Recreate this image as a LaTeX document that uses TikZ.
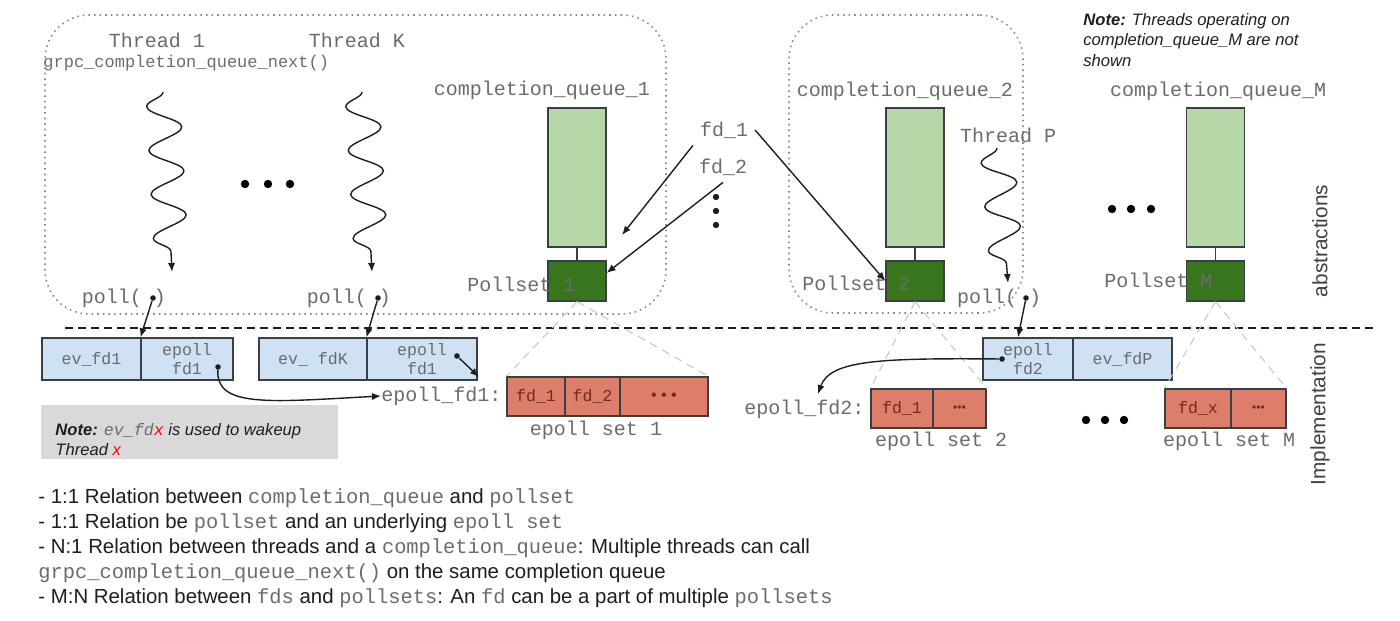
\documentclass[tikz,border=0pt]{standalone}
\usepackage{fontspec}
\setmainfont{Liberation Sans}
\setmonofont{Liberation Mono}
\usetikzlibrary{arrows.meta, calc, decorations.pathmorphing}
\definecolor{CqGreen}  {HTML}{B6D7A8}
\definecolor{PsGreen}  {HTML}{38761D}
\definecolor{EvBlue}   {HTML}{CFE2F3}
\definecolor{EpRed}    {HTML}{DD7E6B}
\definecolor{EpText}   {HTML}{6E2D22}
\definecolor{BoxLine}  {HTML}{3A3F44}
\definecolor{MonoGrey} {HTML}{6B6B6B}
\definecolor{GroupGrey}{HTML}{8C8C8C}
\definecolor{GuideGrey}{HTML}{C4C4C4}
\definecolor{NoteFill} {HTML}{D9D9D9}
\definecolor{Ink}      {HTML}{1E1E1E}
\newcommand{\mtt}[1]{{\ttfamily\color{MonoGrey}#1}}

\tikzset{
  mono/.style={font=\ttfamily\fontsize{10}{12}\selectfont, text=MonoGrey},
  group/.style={draw=GroupGrey, dotted, line width=0.8pt, rounded corners=22pt},
  cqbox/.style={draw=BoxLine, fill=CqGreen, line width=0.6pt,
                minimum width=29pt, minimum height=69.5pt, inner sep=0pt},
  psbox/.style={draw=BoxLine, fill=PsGreen, line width=0.6pt,
                minimum width=29pt, minimum height=20pt, inner sep=0pt},
  evcell/.style={draw=BoxLine, fill=EvBlue, line width=0.6pt, minimum height=21pt,
                 inner sep=1pt, align=center, text=MonoGrey,
                 font=\ttfamily\fontsize{8.3}{9.5}\selectfont},
  epcell/.style={draw=BoxLine, fill=EpRed, line width=0.6pt, minimum height=19.5pt,
                 inner sep=1pt, text=EpText,
                 font=\ttfamily\fontsize{8.3}{9.5}\selectfont},
  arr/.style={-{Latex[length=4.5pt, width=3.6pt]}, line width=0.7pt, draw=Ink},
  wave/.style={arr, decorate, decoration={snake, mirror, segment length=22pt,
               amplitude=8.5pt, post length=7pt}},
  guide/.style={draw=GuideGrey, dashed, dash pattern=on 4pt off 3pt, line width=0.5pt},
  sep/.style={draw=Ink, dash pattern=on 4pt off 2.5pt, line width=0.6pt},
  dotmark/.style={circle, fill=Ink, inner sep=0pt, minimum size=2.8pt},
  bigdot/.style={circle, fill=black, inner sep=0pt, minimum size=4.2pt},
  note/.style={font=\itshape\fontsize{8.3}{10.2}\selectfont, text=Ink, align=left,
               inner sep=0pt},
  side/.style={font=\fontsize{10.4}{12}\selectfont, text=Ink!85, rotate=90}
}

\begin{document}
\begin{tikzpicture}[x=0.5pt, y=-0.5pt]
  \useasboundingbox (0,0) rectangle (1400,620);
  % Dotted groups of threads and queues
  \node[group, minimum width=310.5pt, minimum height=149.5pt] (grp1) at (355.5,164.5) {};
  \node[group, minimum width=117pt, minimum height=149pt] (grp2) at (906,164) {};

  % Threads
  \node[mono] (th1) at (157,40) {Thread 1};
  \node[mono] (thK) at (357,40) {Thread K};
  \node[mono, anchor=west, inner sep=0pt, font=\ttfamily\fontsize{8.5}{10}\selectfont]
        (next) at (43,63) {grpc\_completion\_queue\_next()};
  \node[mono] (thP) at (1008,135) {Thread P};
  \coordinate (w1s) at (163,92);   \coordinate (w1e) at (172,272);
  \coordinate (wKs) at (362,92);   \coordinate (wKe) at (372,272);
  \coordinate (wPs) at (997,148);  \coordinate (wPe) at (1008,283);
  \draw[wave] (w1s) -- (w1e);
  \draw[wave] (wKs) -- (wKe);
  \draw[wave] (wPs) -- (wPe);
  \node[mono] (poll1) at (124,298) {poll( )};
  \node[mono] (pollK) at (349,298) {poll( )};
  \node[mono] (pollP) at (999,298) {poll( )};
  \node[dotmark] (d1) at (153,298) {};
  \node[dotmark] (dK) at (378,298) {};
  \node[dotmark] (dP) at (1026,298) {};
  \foreach \x in {245,268,290} \node[bigdot] at (\x,184) {};

  % Completion queues and pollsets
  \node[mono] (cq1lbl) at (542,90) {completion\_queue\_1};
  \node[mono] (cq2lbl) at (905,91) {completion\_queue\_2};
  \node[mono] (cqMlbl) at (1218,91) {completion\_queue\_M};
  \node[cqbox] (cq1) at (577,177.5) {};
  \node[cqbox] (cq2) at (915,177.5) {};
  \node[cqbox] (cqM) at (1215.5,177.5) {};
  \node[psbox] (ps1) at (577,281) {};
  \node[psbox] (ps2) at (915,281) {};
  \node[psbox] (psM) at (1215.5,281) {};
  \draw[draw=BoxLine, line width=0.6pt] (cq1) -- (ps1);
  \draw[draw=BoxLine, line width=0.6pt] (cq2) -- (ps2);
  \draw[draw=BoxLine, line width=0.6pt] (cqM) -- (psM);
  \node[mono, anchor=west, inner sep=0pt] (ps1lbl) at (467,284) {Pollset 1};
  \node[mono, anchor=west, inner sep=0pt] (ps2lbl) at (802,283) {Pollset 2};
  \node[mono, anchor=west, inner sep=0pt] (psMlbl) at (1104,280) {Pollset M};
  \foreach \x in {1112,1131,1151} \node[bigdot] at (\x,209) {};

  % File descriptors
  \node[mono] (fd1) at (724,130) {fd\_1};
  \node[mono] (fd2) at (723,167) {fd\_2};
  \foreach \y in {197,211,225} \node[dotmark, minimum size=3.2pt] at (716,\y) {};
  \coordinate (hit1) at (622,235);
  \draw[arr] (fd1.south west) -- (hit1);
  \draw[arr] (fd2.south) -- ([yshift=4pt]ps1.east);
  \draw[arr] (fd1.east) -- (ps2.west);

  % Note on threads of the last queue
  \node[note, anchor=north west] (noteM) at (1083,13)
        {\textbf{Note:} Threads operating on\\completion\_queue\_M are not\\shown};

  % Separator between layers
  \coordinate (sepL) at (65,328);
  \coordinate (sepR) at (1375,328);
  \draw[sep] (sepL) -- (sepR);
  \node[side] (abs) at (1320,241) {abstractions};
  \node[side] (impl) at (1320,414) {Implementation};

  % Wakeup fd pairs
  \node[evcell, minimum width=49.5pt] (ev1) at (91.5,359) {ev\_fd1};
  \node[evcell, minimum width=46pt] (ep1) at (187,359) {epoll\\fd1};
  \node[evcell, minimum width=54pt] (evK) at (313,359) {ev\_ fdK};
  \node[evcell, minimum width=55pt] (epK) at (422,359) {epoll\\fd1};
  \node[evcell, minimum width=45pt] (epP) at (1028,359) {epoll\\fd2};
  \node[evcell, minimum width=49.5pt] (evP) at (1122.5,359) {ev\_fdP};
  \draw[arr] (d1) -- (ep1.north west);
  \draw[arr] (dK) -- (epK.north west);
  \draw[arr] (dP) -- ([xshift=-5pt]epP.north);
  \node[dotmark] (e1dot) at (218,367) {};
  \node[dotmark] (eKdot) at (457,356) {};
  \node[dotmark] (ePdot) at (1002,359) {};

  % Epoll sets
  \node[mono, anchor=west, inner sep=0pt] (efd1) at (381,396) {epoll\_fd1:};
  \node[epcell, minimum width=29pt] (s1a) at (536,396.5) {fd\_1};
  \node[epcell, minimum width=27.5pt] (s1b) at (592.5,396.5) {fd\_2};
  \node[epcell, minimum width=44pt, font=\fontsize{8}{9}\selectfont] (s1c) at (664,396.5) {• • •};
  \node[mono] (set1) at (596,430) {epoll set 1};
  \node[mono, anchor=west, inner sep=0pt] (efd2) at (744,409) {epoll\_fd2:};
  \node[epcell, minimum width=31pt] (s2a) at (902,408.5) {fd\_1};
  \node[epcell, minimum width=26.5pt, font=\fontsize{6}{7}\selectfont] (s2b) at (959.5,408.5) {•••};
  \node[mono] (set2) at (941,441) {epoll set 2};
  \node[epcell, minimum width=33pt] (sMa) at (1198,408.5) {fd\_x};
  \node[epcell, minimum width=27.5pt, font=\fontsize{6}{7}\selectfont] (sMb) at (1258.5,408.5) {•••};
  \node[mono] (setM) at (1229,441) {epoll set M};
  \foreach \x in {1086,1105,1124} \node[bigdot] at (\x,420) {};
  \draw[guide] (ps1.south) -- (s1a.north west);
  \draw[guide] (ps1.south) -- (s1c.north east);
  \draw[guide] (ps2.south) -- (s2a.north west);
  \draw[guide] (ps2.south) -- (s2b.north east);
  \draw[guide] (psM.south) -- (sMa.north west);
  \draw[guide] (psM.south) -- (sMb.north east);

  % Links from epoll fds to their sets
  \coordinate (eKhit) at (479,377);
  \coordinate (efd2hit) at (818,394);
  \draw[arr] (e1dot) .. controls (216,408) and (270,402) .. (efd1.west);
  \draw[arr] (eKdot) -- (eKhit);
  \draw[arr] (ePdot) .. controls (880,358) and (830,360) .. (efd2hit);

  % Note on wakeup fds
  \node[fill=NoteFill, minimum width=148.5pt, minimum height=27pt, inner sep=0pt]
        (notebg) at (189.5,432) {};
  \node[note, anchor=north west] (notefd) at (55,423)
        {\textbf{Note:} {\ttfamily\color{MonoGrey}ev\_fd}{\ttfamily\color{red}x} is used to wakeup\\
         Thread {\color{red}x}};

  % Relations
  \node[anchor=north west, inner sep=0pt, align=left, text=Ink,
        font=\fontsize{10.2}{12.6}\selectfont] (rels) at (38,488)
        {- 1:1 Relation between \mtt{completion\_queue} and \mtt{pollset}\\
         - 1:1 Relation be \mtt{pollset} and an underlying \mtt{epoll set}\\
         - N:1 Relation between threads and a \mtt{completion\_queue}: Multiple threads can call\\
         \mtt{grpc\_completion\_queue\_next()} on the same completion queue\\
         - M:N Relation between \mtt{fds} and \mtt{pollsets}: An \mtt{fd} can be a part of multiple \mtt{pollsets}};
\end{tikzpicture}
\end{document}
